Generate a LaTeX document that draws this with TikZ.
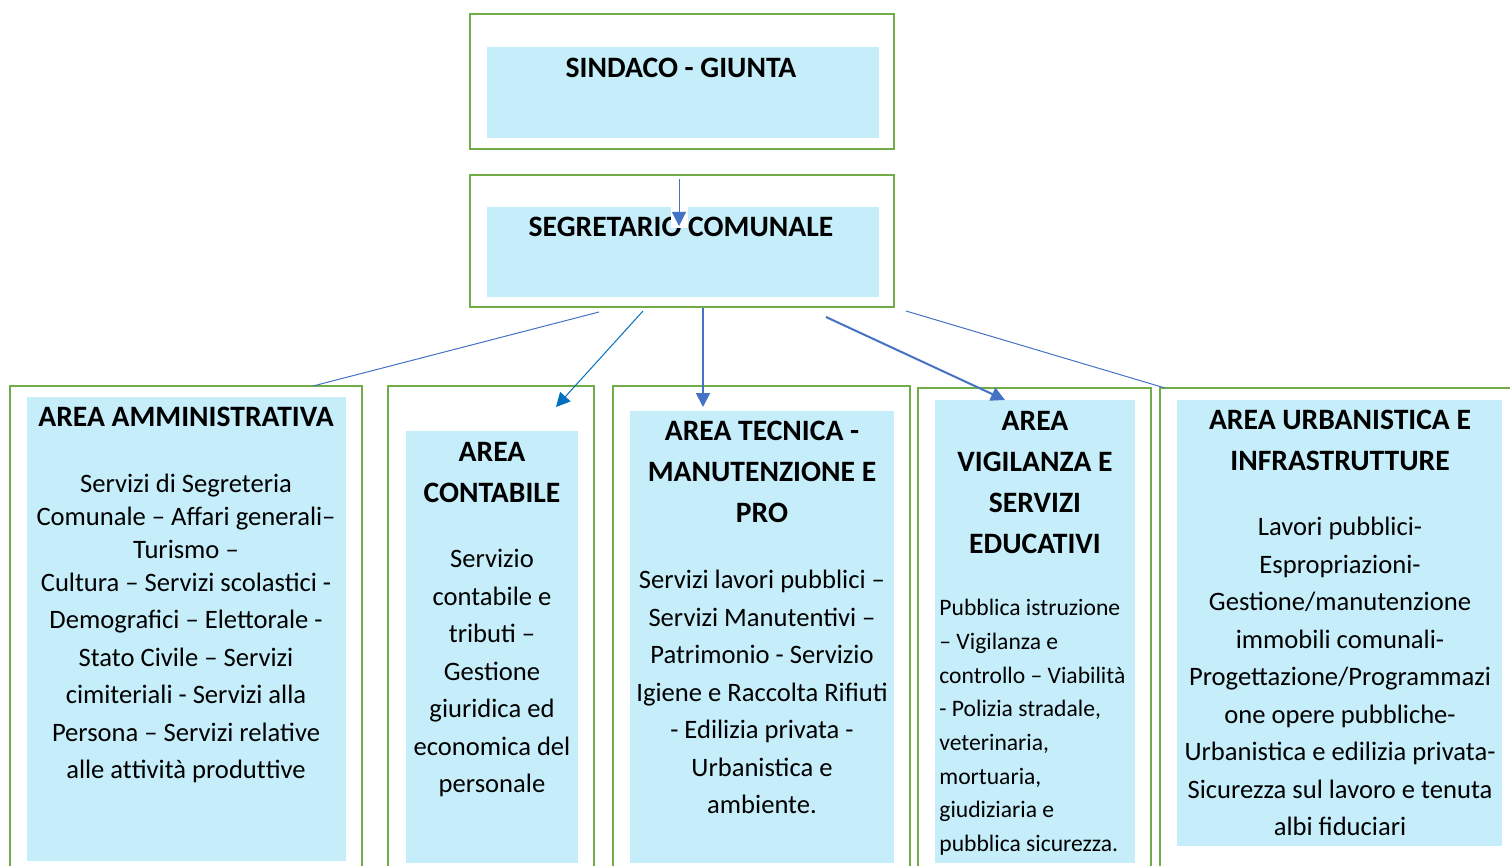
\documentclass[tikz,border=0pt]{standalone}
\usepackage{fontspec}
\setmainfont{Carlito}
\usetikzlibrary{arrows.meta,fit}
\definecolor{grn}{HTML}{70AD47}
\definecolor{lblue}{HTML}{C5EEFA}
\definecolor{arr}{HTML}{4472C4}
\definecolor{arrb}{HTML}{0070C0}
\begin{document}
\begin{tikzpicture}[x=0.5pt,y=-0.5pt,
  outerbox/.style={draw=grn, line width=1.35pt, inner sep=0pt},
  innerbox/.style={fill=lblue, inner sep=0pt},
  ttl/.style={font=\bfseries\fontsize{14.8}{20.5}\selectfont, align=center, inner sep=0pt, anchor=base},
  body/.style={font=\fontsize{13.3}{18.75}\selectfont, align=center, inner sep=0pt, anchor=base},
  bodys/.style={font=\fontsize{11.8}{16.85}\selectfont, align=left, inner sep=0pt, anchor=base west},
  conn/.style={draw=arr, line width=0.5pt},
  connb/.style={draw=arr, line width=1pt},
  tip/.style={-{Triangle[length=7pt,width=7pt]}}
]
\useasboundingbox (0,0) rectangle (1510,866);
% top boxes
\node[outerbox, fit={(470,14) (894,149)}] (sindO) {};
\node[innerbox, fit={(487,47) (879,138)}] (sindI) {};
\node[ttl] (sindT) at (681,78) {SINDACO - GIUNTA};
\node[outerbox, fit={(470,175) (894,307)}] (segO) {};
\node[innerbox, fit={(487,207) (879,297)}] (segI) {};
\node[ttl] (segT) at (681,237) {SEGRETARIO COMUNALE};
% lower boxes
\node[outerbox, fit={(10,386) (362,880)}] (c1O) {};
\node[innerbox, fit={(27,397) (346,861)}] (c1I) {};
\node[outerbox, fit={(388,386) (594,880)}] (c2O) {};
\node[innerbox, fit={(406,431) (578,863)}] (c2I) {};
\node[outerbox, fit={(613,386) (910,880)}] (c3O) {};
\node[innerbox, fit={(630,411) (894,863)}] (c3I) {};
\node[outerbox, fit={(918,388) (1151,880)}] (c4O) {};
\node[innerbox, fit={(935,400) (1135,863)}] (c4I) {};
\node[outerbox, fit={(1160,388) (1520,880)}] (c5O) {};
\node[innerbox, fit={(1177,400) (1502,846)}] (c5I) {};
% titles (anchored at the baseline of the last line)
\node[ttl] (t1) at (186,426) {AREA AMMINISTRATIVA};
\node[ttl] (t2) at (492,502) {AREA\\CONTABILE};
\node[ttl] (t3) at (762,522) {AREA TECNICA -\\MANUTENZIONE E\\PRO};
\node[ttl] (t4) at (1035,553) {AREA\\VIGILANZA E\\SERVIZI\\EDUCATIVI};
\node[ttl] (t5) at (1340,470) {AREA URBANISTICA E\\INFRASTRUTTURE};
% bodies
\node[body] (b1) at (186,778.5) {Servizi di Segreteria\\[-2.25pt]
Comunale -- Affari generali--\\[-2.25pt]
Turismo --\\[-2.25pt]
Cultura -- Servizi scolastici -\\
Demografici -- Elettorale -\\
Stato Civile -- Servizi\\
cimiteriali - Servizi alla\\
Persona -- Servizi relative\\
alle at\kern0pt tività produt\kern0pt tive};
\node[body] (b2) at (492,792.5) {Servizio\\contabile e\\tributi --\\Gestione\\giuridica ed\\economica del\\personale};
\node[body] (b3) at (762,813.5) {Servizi lavori pubblici --\\Servizi Manutentivi --\\Patrimonio - Servizio\\Igiene e Raccolta Rifiuti\\- Edilizia privata -\\Urbanistica e\\ambiente.};
\node[bodys] (b4) at (939,851.5) {Pubblica istruzione\\-- Vigilanza e\\controllo -- Viabilità\\- Polizia stradale,\\veterinaria,\\mortuaria,\\giudiziaria e\\pubblica sicurezza.};
\node[body] (b5) at (1340,835.5) {Lavori pubblici-\\Espropriazioni-\\Gestione/manutenzione\\immobili comunali-\\Progettazione/Programmazi\\one opere pubbliche-\\Urbanistica e edilizia privata-\\Sicurezza sul lavoro e tenuta\\albi fiduciari};
% connectors
\coordinate (s0) at (679,179);
\coordinate (s1) at (679,226);
\fill[white] (671,207) rectangle (688,228);
\draw[conn, tip] (s0) -- (s1);
\coordinate (a1s) at (599,312); \coordinate (a1e) at (313,386);
\draw[conn] (a1s) -- (a1e);
\coordinate (a2s) at (643,311); \coordinate (a2e) at (556,407);
\draw[conn, draw=arrb, tip] (a2s) -- (a2e);
\coordinate (a3e) at (703,407);
\draw[connb, tip] (segO.south -| a3e) -- (a3e);
\coordinate (a4s) at (826,317); \coordinate (a4e) at (1005,400);
\draw[connb, tip] (a4s) -- (a4e);
\coordinate (a5s) at (906,311); \coordinate (a5e) at (1165,388);
\draw[conn] (a5s) -- (a5e);
\end{tikzpicture}
\end{document}
